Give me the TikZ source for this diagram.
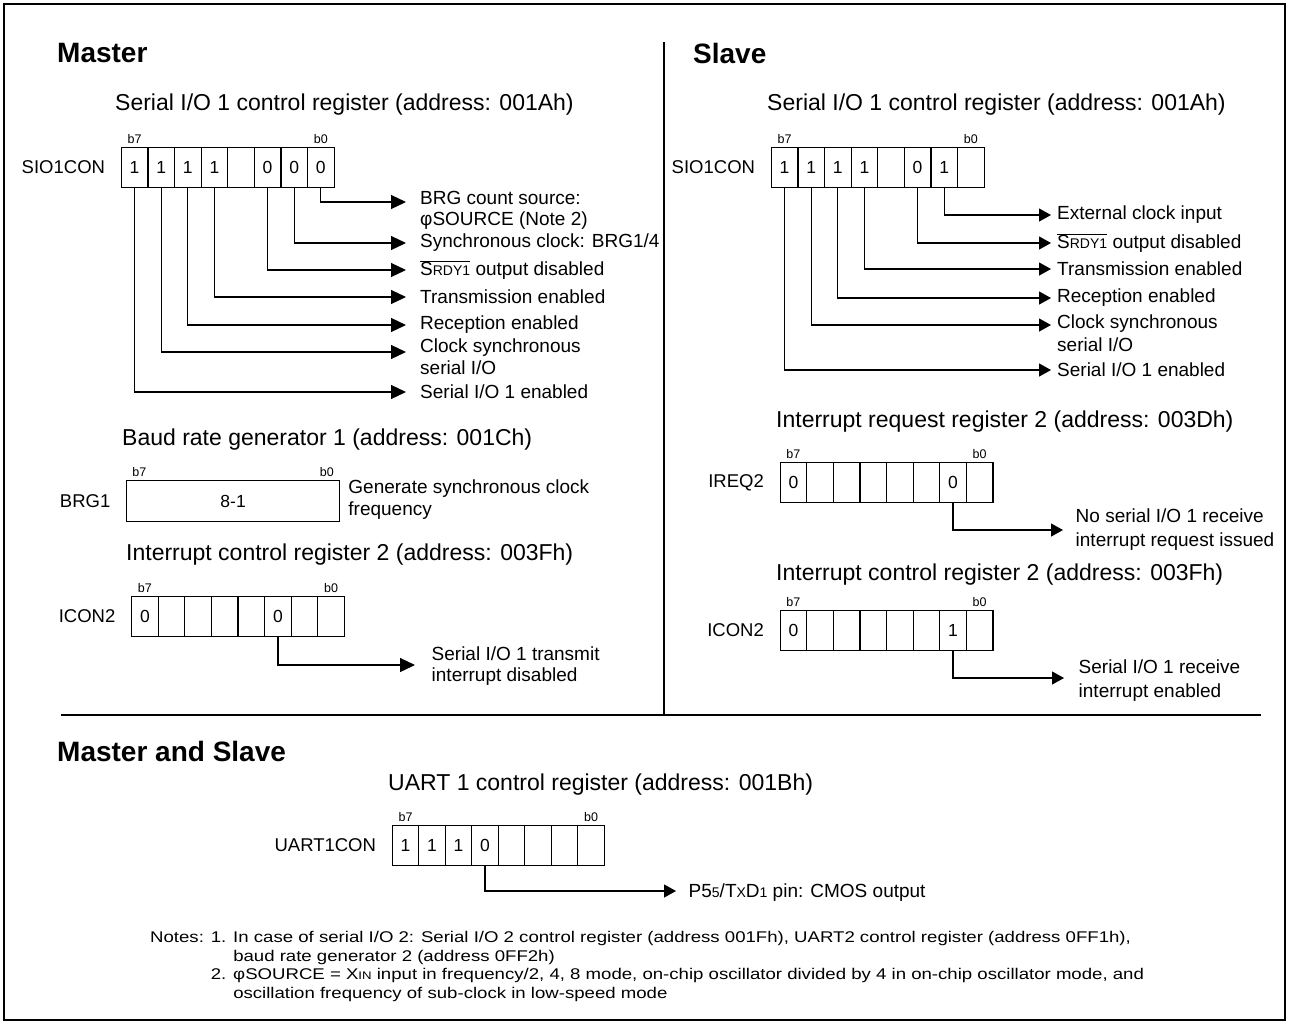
\documentclass[tikz,border=0pt]{standalone}
\usepackage{fontspec}
\setmainfont{Liberation Sans}
\newfontfamily\notefont[FakeStretch=1.2]{Liberation Sans}
\usetikzlibrary{positioning,arrows.meta}

\newcommand{\srdy}{$\overline{\hbox{S{\fontsize{14}{14}\selectfont RDY1}}}$}
\newcommand{\smc}[1]{{\fontsize{14}{14}\selectfont #1}}

\tikzset{
  head/.style={anchor=west, inner sep=0pt, font=\fontsize{28}{28}\selectfont\bfseries},
  regtitle/.style={anchor=west, inner sep=0pt, font=\fontsize{23}{23}\selectfont},
  regname/.style={inner sep=2pt, font=\fontsize{18.5}{18.5}\selectfont},
  bitcell/.style={draw, line width=1.2pt, anchor=north west, minimum width=26.6pt,
    minimum height=40pt, inner sep=0pt, font=\fontsize{17.5}{17.5}\selectfont},
  bitno/.style={inner sep=1pt, font=\fontsize{12.5}{12.5}\selectfont},
  desc/.style={anchor=west, inner sep=0pt, align=left, font=\fontsize{19}{21}\selectfont},
  link/.style={line width=1.2pt, -{Triangle[length=15pt,width=14pt]}},
  slink/.style={line width=1.2pt, -{Triangle[length=12pt,width=13pt]}},
}

\begin{document}
\begin{tikzpicture}[x=1pt,y=-1pt]
\useasboundingbox (0,0) rectangle (1289,1023);
\draw[line width=2.5pt] (4,4) rectangle (1285,1020);
\draw[line width=1.5pt] (664,42) -- (664,716);
\draw[line width=1.5pt] (61,715) -- (1261,715);

% ---- Master
\node[head] (mhead) at (57,53) {Master};
\node[regtitle] (mtsio) at (115,105) {Serial I/O 1 control register (address: 001Ah)};
\foreach \v [count=\i from 0] in {1,1,1,1,{},0,0,0} {
  \pgfmathtruncatemacro\b{7-\i}
  \node[bitcell] (ms\b) at ({120.7+26.6*\i},147) {\v};
}
\node[regname, left=13.5pt of ms7] (mnsio) {SIO1CON};
\node[bitno, above=2pt of ms7] {b7};
\node[bitno, above=2pt of ms0] {b0};

\coordinate (ma0) at (406,202);
\coordinate (ma1) at (406,243);
\coordinate (ma2) at (406,270);
\coordinate (ma4) at (406,297);
\coordinate (ma5) at (406,325);
\coordinate (ma6) at (406,352);
\coordinate (ma7) at (406,392);
\node[desc, right=14pt of ma0, yshift=-8.5pt] (ml0) {BRG count source:\\φSOURCE (Note 2)};
\node[desc, right=14pt of ma1] (ml1) {Synchronous clock: BRG1/4};
\node[desc, right=14pt of ma2] (ml2) {\srdy{} output disabled};
\node[desc, right=14pt of ma4] (ml4) {Transmission enabled};
\node[desc, right=14pt of ma5] (ml5) {Reception enabled};
\node[desc, right=14pt of ma6, yshift=-5pt, font=\fontsize{19}{22}\selectfont] (ml6) {Clock synchronous\\serial I/O};
\node[desc, right=14pt of ma7] (ml7) {Serial I/O 1 enabled};
\draw[link] (ms0.south) |- (ma0);
\draw[link] (ms1.south) |- (ma1);
\draw[link] (ms2.south) |- (ma2);
\draw[link] (ms4.south) |- (ma4);
\draw[link] (ms5.south) |- (ma5);
\draw[link] (ms6.south) |- (ma6);
\draw[link] (ms7.south) |- (ma7);

\node[regtitle] (mtbrg) at (122,440) {Baud rate generator 1 (address: 001Ch)};
\node[draw, line width=1.2pt, anchor=north west, minimum width=213pt, minimum height=41pt,
  inner sep=0pt, font=\fontsize{17.5}{17.5}\selectfont] (brg) at (126,480) {8-1};
\node[regname, left=13.5pt of brg] (mnbrg) {BRG1};
\node[bitno, above=2pt of brg.north west, xshift=13.3pt] {b7};
\node[bitno, above=2pt of brg.north east, xshift=-13.3pt] {b0};
\node[desc, right=8pt of brg, yshift=1.5pt, font=\fontsize{19}{22}\selectfont] (mlbrg) {Generate synchronous clock\\frequency};

\node[regtitle] (mticon) at (126,555) {Interrupt control register 2 (address: 003Fh)};
\foreach \v [count=\i from 0] in {0,{},{},{},{},0,{},{}} {
  \pgfmathtruncatemacro\b{7-\i}
  \node[bitcell] (mc\b) at ({131+26.6*\i},596) {\v};
}
\node[regname, left=13.5pt of mc7] (mnicon) {ICON2};
\node[bitno, above=2pt of mc7] {b7};
\node[bitno, above=2pt of mc0] {b0};
\coordinate (mca) at (415,665);
\node[desc, right=16.5pt of mca, yshift=-1.5pt] (mlicon) {Serial I/O 1 transmit\\interrupt disabled};
\draw[link] (mc2.south) |- (mca);

% ---- Slave
\node[head] (shead) at (693,53) {Slave};
\node[regtitle] (stsio) at (767,105) {Serial I/O 1 control register (address: 001Ah)};
\foreach \v [count=\i from 0] in {1,1,1,1,{},0,1,{}} {
  \pgfmathtruncatemacro\b{7-\i}
  \node[bitcell] (ss\b) at ({770.7+26.6*\i},147) {\v};
}
\node[regname, left=13.5pt of ss7] (snsio) {SIO1CON};
\node[bitno, above=2pt of ss7] {b7};
\node[bitno, above=2pt of ss0] {b0};

\coordinate (sa1) at (1051,215);
\coordinate (sa2) at (1051,243);
\coordinate (sa4) at (1051,269);
\coordinate (sa5) at (1051,298);
\coordinate (sa6) at (1051,325);
\coordinate (sa7) at (1051,370);
\node[desc, right=6pt of sa1] (sl1) {External clock input};
\node[desc, right=6pt of sa2] (sl2) {\srdy{} output disabled};
\node[desc, right=6pt of sa4] (sl4) {Transmission enabled};
\node[desc, right=6pt of sa5] (sl5) {Reception enabled};
\node[desc, right=6pt of sa6, yshift=-8.5pt, font=\fontsize{19}{23}\selectfont] (sl6) {Clock synchronous\\serial I/O};
\node[desc, right=6pt of sa7] (sl7) {Serial I/O 1 enabled};
\draw[slink] (ss1.south) |- (sa1);
\draw[slink] (ss2.south) |- (sa2);
\draw[slink] (ss4.south) |- (sa4);
\draw[slink] (ss5.south) |- (sa5);
\draw[slink] (ss6.south) |- (sa6);
\draw[slink] (ss7.south) |- (sa7);

\node[regtitle] (stireq) at (776,422) {Interrupt request register 2 (address: 003Dh)};
\foreach \v [count=\i from 0] in {0,{},{},{},{},{},0,{}} {
  \pgfmathtruncatemacro\b{7-\i}
  \node[bitcell] (si\b) at ({779.5+26.6*\i},462) {\v};
}
\node[regname, left=13.5pt of si7] (snireq) {IREQ2};
\node[bitno, above=2pt of si7] {b7};
\node[bitno, above=2pt of si0] {b0};
\coordinate (sia) at (1063,530);
\node[desc, right=12.5pt of sia, font=\fontsize{19}{24}\selectfont] (slireq) {No serial I/O 1 receive\\interrupt request issued};
\draw[slink] (si1.south) |- (sia);

\node[regtitle] (sticon) at (776,575) {Interrupt control register 2 (address: 003Fh)};
\foreach \v [count=\i from 0] in {0,{},{},{},{},{},1,{}} {
  \pgfmathtruncatemacro\b{7-\i}
  \node[bitcell] (sc\b) at ({779.5+26.6*\i},610) {\v};
}
\node[regname, left=13.5pt of sc7] (snicon) {ICON2};
\node[bitno, above=2pt of sc7] {b7};
\node[bitno, above=2pt of sc0] {b0};
\coordinate (sca) at (1064,678);
\node[desc, right=14.5pt of sca, yshift=-3pt, font=\fontsize{19}{24}\selectfont] (slicon) {Serial I/O 1 receive\\interrupt enabled};
\draw[slink] (sc1.south) |- (sca);

% ---- Master and Slave
\node[head] (bhead) at (57,751) {Master and Slave};
\node[regtitle] (btuart) at (388,785) {UART 1 control register (address: 001Bh)};
\foreach \v [count=\i from 0] in {1,1,1,0,{},{},{},{}} {
  \pgfmathtruncatemacro\b{7-\i}
  \node[bitcell, minimum width=26.5pt] (bu\b) at ({391.7+26.5*\i},825) {\v};
}
\node[regname, left=13.5pt of bu7] (bnuart) {UART1CON};
\node[bitno, above=2pt of bu7] {b7};
\node[bitno, above=2pt of bu0] {b0};
\coordinate (bua) at (676,891);
\node[desc, right=12.5pt of bua, yshift=-1.5pt] (bluart) {P5\smc{5}/T\smc{X}D\smc{1} pin: CMOS output};
\draw[slink] (bu4.south) |- (bua);

\node[anchor=north west, inner sep=0pt, font=\notefont\fontsize{15.5}{18.5}\selectfont] (notes) at (150,929.5) {%
\begin{tabular}{@{}l@{ }l@{ }l@{}}
Notes: & 1. & In case of serial I/O 2: Serial I/O 2 control register (address 001Fh), UART2 control register (address 0FF1h),\\
 & & baud rate generator 2 (address 0FF2h)\\
 & 2. & φSOURCE = X{\fontsize{11}{11}\selectfont IN} input in frequency/2, 4, 8 mode, on-chip oscillator divided by 4 in on-chip oscillator mode, and\\
 & & oscillation frequency of sub-clock in low-speed mode
\end{tabular}};
\end{tikzpicture}
\end{document}
